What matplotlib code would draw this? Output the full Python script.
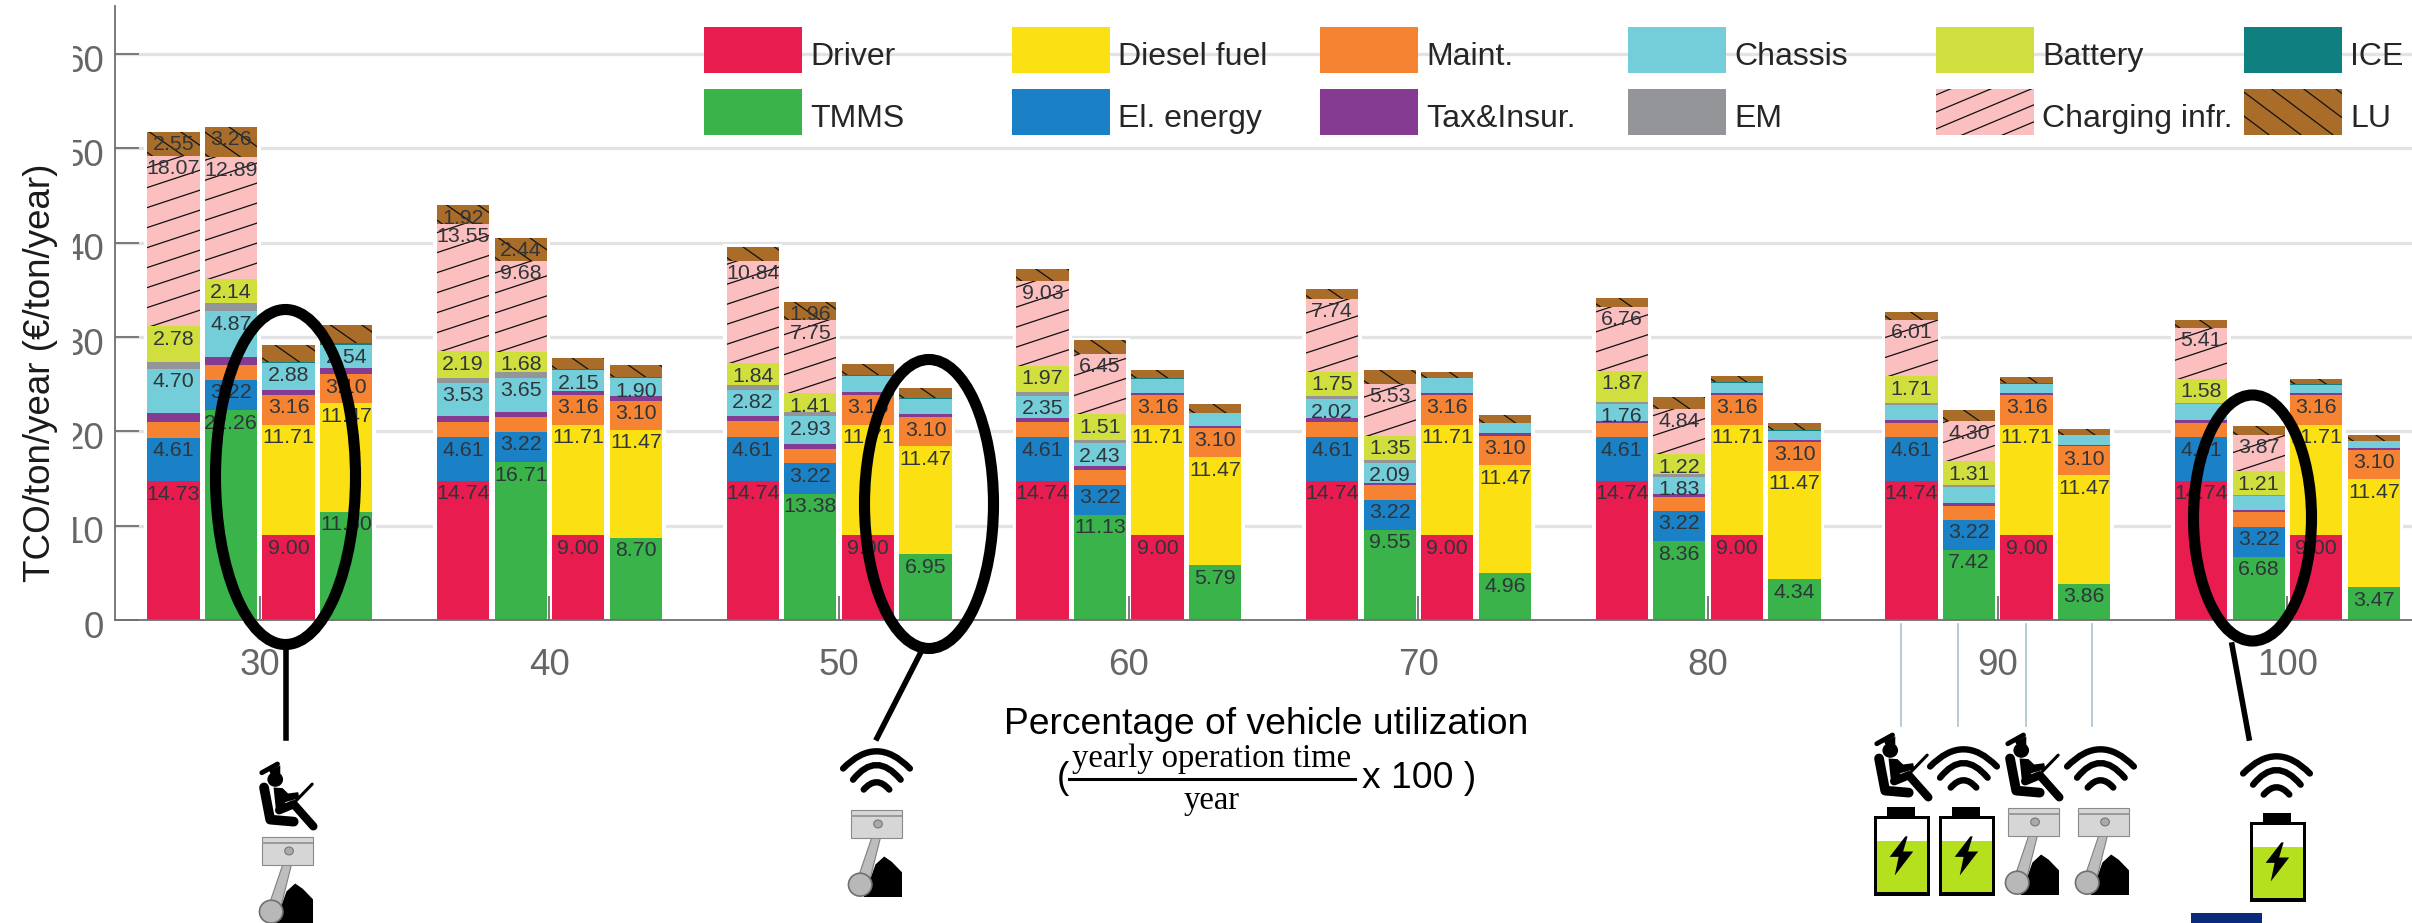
import numpy as np
import matplotlib
matplotlib.use('Agg')
import matplotlib.pyplot as plt
from matplotlib.lines import Line2D
from matplotlib.patches import Rectangle, Ellipse, Polygon, PathPatch
from matplotlib.path import Path
from matplotlib.transforms import Affine2D, IdentityTransform, ScaledTranslation

plt.rcParams['font.family'] = ['Liberation Sans', 'DejaVu Sans']

W, H = 2412, 923

groups = [30, 40, 50, 60, 70, 80, 90, 100]

# four bars per group: driver+electric, TMMS+electric, driver+diesel, TMMS+diesel
driver = [14.73, 0, 9.00, 0, 14.74, 0, 9.00, 0, 14.74, 0, 9.00, 0, 14.74, 0, 9.00, 0,
          14.74, 0, 9.00, 0, 14.74, 0, 9.00, 0, 14.74, 0, 9.00, 0, 14.74, 0, 9.00, 0]
tmms = [0, 22.26, 0, 11.50, 0, 16.71, 0, 8.70, 0, 13.38, 0, 6.95, 0, 11.13, 0, 5.79,
        0, 9.55, 0, 4.96, 0, 8.36, 0, 4.34, 0, 7.42, 0, 3.86, 0, 6.68, 0, 3.47]
diesel = [0, 0, 11.71, 11.47, 0, 0, 11.71, 11.47, 0, 0, 11.71, 11.47, 0, 0, 11.71, 11.47,
          0, 0, 11.71, 11.47, 0, 0, 11.71, 11.47, 0, 0, 11.71, 11.47, 0, 0, 11.71, 11.47]
el_energy = [4.61, 3.22, 0, 0, 4.61, 3.22, 0, 0, 4.61, 3.22, 0, 0, 4.61, 3.22, 0, 0,
             4.61, 3.22, 0, 0, 4.61, 3.22, 0, 0, 4.61, 3.22, 0, 0, 4.61, 3.22, 0, 0]
maint = [1.7, 1.6, 3.16, 3.10, 1.6, 1.55, 3.16, 3.10, 1.7, 1.55, 3.16, 3.10, 1.6, 1.55, 3.16, 3.10,
         1.6, 1.5, 3.16, 3.10, 1.5, 1.5, 3.16, 3.10, 1.55, 1.48, 3.16, 3.10, 1.55, 1.5, 3.16, 3.10]
tax = [.9, .8, .5, .6, .7, .55, .45, .45, .55, .5, .3, .3, .5, .4, .25, .25,
       .45, .3, .25, .25, .3, .25, .2, .2, .3, .25, .2, .15, .3, .25, .2, .15]
chassis = [4.70, 4.87, 2.88, 2.54, 3.53, 3.65, 2.15, 1.90, 2.82, 2.93, 1.73, 1.58, 2.35, 2.43, 1.45, 1.30,
           2.02, 2.09, 1.50, 1.07, 1.76, 1.83, 1.05, .95, 1.55, 1.75, 1.0, 1.0, 1.65, 1.5, .85, .75]
em = [.7, .9, 0, 0, .5, .65, 0, 0, .45, .5, 0, 0, .4, .35, 0, 0,
      .3, .3, 0, 0, .25, .3, 0, 0, .25, .15, 0, 0, .2, .15, 0, 0]
battery = [3.8, 2.5, 0, 0, 2.8, 2.1, 0, 0, 2.37, 1.95, 0, 0, 2.75, 2.72, 0, 0,
           2.6, 2.55, 0, 0, 3.27, 2.1, 0, 0, 2.85, 2.55, 0, 0, 2.5, 2.45, 0, 0]
ice = [0, 0, .15, .15, 0, 0, .1, .1, 0, 0, .1, .1, 0, 0, .08, .08,
       0, 0, .08, .08, 0, 0, .08, .08, 0, 0, .08, .08, 0, 0, .08, .08]
charging = [18.07, 12.89, 0, 0, 13.55, 9.68, 0, 0, 10.84, 7.75, 0, 0, 9.03, 6.45, 0, 0,
            7.74, 5.53, 0, 0, 6.76, 4.84, 0, 0, 6.01, 4.30, 0, 0, 5.41, 3.87, 0, 0]
lu = [2.55, 3.26, 1.8, 1.95, 1.92, 2.44, 1.25, 1.35, 1.5, 1.96, 1.1, 1.1, 1.24, 1.4, .85, .95,
      1.03, 1.45, .55, .8, 1.0, 1.25, .7, .75, .8, 1.1, .6, .6, .8, .92, .5, .55]

# printed labels where they differ from what is drawn or are left out
battery_lbl = ['2.78', '2.14', '', '', '2.19', '1.68', '', '', '1.84', '1.41', '', '', '1.97', '1.51', '', '',
               '1.75', '1.35', '', '', '1.87', '1.22', '', '', '1.71', '1.31', '', '', '1.58', '1.21', '', '']
chassis_lbl = ['4.70', '4.87', '2.88', '2.54', '3.53', '3.65', '2.15', '1.90', '2.82', '2.93', '', '', '2.35', '2.43', '', '',
               '2.02', '2.09', '', '', '1.76', '1.83', '', '', '', '', '', '', '', '', '', '']
lu_lbl = ['2.55', '3.26', '', '', '1.92', '2.44', '', '', '', '1.96', '', '']
maint_lbl = ['', '', '3.16', '3.10'] * 8

names = ['Driver', 'TMMS', 'Diesel fuel', 'El. energy', 'Maint.', 'Tax&Insur.',
         'Chassis', 'EM', 'Battery', 'ICE', 'Charging infr.', 'LU']
series = [driver, tmms, diesel, el_energy, maint, tax, chassis, em, battery, ice, charging, lu]
colors = ['#e81c4e', '#39b34a', '#fbe113', '#1a81c6', '#f68331', '#853b92',
          '#73ced9', '#939598', '#d1df3e', '#0f807f', '#fcbfbf', '#a96d29']
legend_order = ['Driver', 'TMMS', 'Diesel fuel', 'El. energy', 'Maint.', 'Tax&Insur.',
                'Chassis', 'EM', 'Battery', 'Charging infr.', 'ICE', 'LU']


def fmt(vals):
    return ['%.2f' % v if v else '' for v in vals]


labels = [fmt(driver), fmt(tmms), fmt(diesel), fmt(el_energy), maint_lbl, None,
          chassis_lbl, None, battery_lbl, None, fmt(charging), lu_lbl]

fig = plt.figure(figsize=(W / 100, H / 100), dpi=100)
ax = fig.add_axes([115 / W, (H - 620) / H, (W - 115) / W, 614 / H])
ax.set_xlim(25, 104.3)
ax.set_ylim(0, 65.1)

px_x = 28.97
pitch = 57.6 / px_x
width = 52.3 / px_x

x = np.array([g + (i - 1.5) * pitch for g in groups for i in range(4)])
totals = np.sum(series, axis=0)


def hatch(patch, slope, step, container, z):
    bb = patch.get_window_extent()
    w = bb.x1 - bb.x0
    rise = abs(slope) * w
    for c in np.arange(bb.y0 - rise - 4, bb.y1 + rise, step):
        line = Line2D([bb.x0, bb.x1], [c, c + slope * w], color='#111111', lw=0.9,
                      transform=IdentityTransform(), zorder=z)
        container.add_artist(line)
        line.set_clip_path(patch)


ax.hlines(range(10, 70, 10), 25, 104.3, color='#e3e3e5', lw=2.4, zorder=0.5)
# white halo round every stack, the grid stops short of the bars
ax.bar(x, totals + 0.3, width=width + 7 / px_x, color='white', zorder=0.9)

bottom = np.zeros(len(x))
for name, vals, col, lbl in zip(names, series, colors, labels):
    bars = ax.bar(x, vals, width=width, bottom=bottom, color=col, zorder=1)
    for i, b in enumerate(bars):
        if vals[i] == 0:
            continue
        if name == 'Charging infr.':
            hatch(b, 0.33, 20, ax, 1.5)
        if name == 'LU':
            hatch(b, -0.7, 22, ax, 1.5)
        if lbl is not None and i < len(lbl) and lbl[i]:
            ax.annotate(lbl[i], (x[i], bottom[i] + vals[i]), xytext=(0, -2.5),
                        textcoords='offset points', ha='center', va='top',
                        fontsize=15.4, color='#2f353a', zorder=3)
    bottom += np.array(vals)

for s in ['top', 'right']:
    ax.spines[s].set_visible(False)
for s in ['left', 'bottom']:
    ax.spines[s].set_color('#707070')
    ax.spines[s].set_linewidth(1.3)
ax.set_xticks(groups)
ax.set_yticks(range(0, 70, 10))
ax.tick_params(axis='both', direction='in', length=17, width=1.3, color='#707070',
               labelcolor='#666666', labelsize=26.5)
ax.tick_params(axis='x', pad=20)
ax.tick_params(axis='y', pad=8)
ax.patch.set_alpha(0)
for t in ax.get_yticklabels():
    t.set_transform(t.get_transform() + ScaledTranslation(0, -0.04, fig.dpi_scale_trans))

fig.text(41 / W, 1 - 373 / H, 'TCO/ton/year (€/ton/year)', rotation=90, fontsize=26.5,
         color='#1a1a1a', ha='center', va='center')
# the left digit of the y tick labels is cut off in the original
fig.add_artist(Rectangle((60, H - 570), 13, 560, color='white', lw=0,
                         transform=IdentityTransform(), zorder=4))

# legend, fixed column pitch
for j, name in enumerate(legend_order):
    col = colors[names.index(name)]
    lx = 704 + 308 * (j // 2)
    ly = 27 if j % 2 == 0 else 89
    r = Rectangle((lx, H - ly - 46), 97.5, 46, facecolor=col, edgecolor='none',
                  transform=IdentityTransform(), zorder=3)
    fig.add_artist(r)
    if name == 'Charging infr.':
        hatch(r, 0.42, 17, fig, 3.2)
    if name == 'LU':
        hatch(r, -0.75, 24, fig, 3.2)
    fig.text((lx + 106) / W, 1 - (ly + 30) / H, name, fontsize=23, color='#262626',
             ha='left', va='center', zorder=3)

# x axis title with fraction
fig.text(1266 / W, 1 - 725 / H, 'Percentage of vehicle utilization', fontsize=26.8,
         color='black', ha='center', va='center')
fig.text(1212 / W, 1 - 759 / H, 'yearly operation time', fontsize=23.5, family='Liberation Serif',
         color='black', ha='center', va='center')
fig.text(1212 / W, 1 - 801 / H, 'year', fontsize=23.5, family='Liberation Serif',
         color='black', ha='center', va='center')
fig.add_artist(Line2D([1069, 1355], [H - 779, H - 779], color='black', lw=2.2,
                      transform=IdentityTransform()))
fig.text(1057 / W, 1 - 778 / H, '(', fontsize=26.8, color='black', ha='left', va='center')
fig.text(1362 / W, 1 - 778 / H, 'x 100 )', fontsize=26.8, color='black', ha='left', va='center')

# callout ellipses and pointers
for cx, cy, ew, eh in [(285.5, 477, 151, 346), (929, 504, 140, 300), (2252.5, 518, 129, 257)]:
    fig.add_artist(Ellipse((cx, H - cy), ew - 11, eh - 11, fill=False, edgecolor='black', lw=8,
                           transform=IdentityTransform(), zorder=5))
for x0, y0, x1, y1 in [(286, 648, 286, 738), (921, 652, 877, 738), (2232, 645, 2249, 738)]:
    fig.add_artist(Line2D([x0, x1], [H - y0, H - y1], color='black', lw=4,
                          transform=IdentityTransform(), zorder=5))
for lx in [1901, 1958, 2026, 2092]:
    fig.add_artist(Line2D([lx, lx], [H - 624, H - 726], color='#a9c2d1', lw=1.2,
                          transform=IdentityTransform(), zorder=2))

fig.add_artist(Rectangle((2191, 0), 71, 10, color='#0a2a7a', lw=0,
                         transform=IdentityTransform(), zorder=5))


def box(x0, y0, w, h):
    return Affine2D().scale(w, -h).translate(x0, H - y0)


def add(p, tr):
    p.set_transform(tr)
    p.set_zorder(6)
    fig.add_artist(p)


def stroke(pts, tr, lw, col='black'):
    xs, ys = tr.transform(pts).T
    fig.add_artist(Line2D(xs, ys, color=col, lw=lw, solid_capstyle='round', solid_joinstyle='round',
                          transform=IdentityTransform(), zorder=6))


def driver_icon(x0, y0, w=56, h=67):
    tr = box(x0, y0, w, h)
    stroke([(.05, .16), (.33, .03)], tr, 3.5)
    add(Polygon([(.18, .13), (.38, .05), (.38, .19), (.22, .2)], color='black', lw=0), tr)
    add(Ellipse((.29, .26), .28, .22, color='black', lw=0), tr)
    stroke([(.09, .38), (.2, .86), (.62, .89)], tr, 7)
    add(Polygon([(.26, .38), (.42, .39), (.52, .47), (.7, .45), (.72, .54), (.47, .6), (.46, .68),
                 (.62, .66), (.34, .78), (.3, .7)], color='black', lw=0), tr)
    stroke([(.36, .72), (.62, .63), (.97, .96)], tr, 6)
    stroke([(.66, .58), (.95, .33)], tr, 2.2)


def wifi_icon(x0, y0, w=71, h=43):
    tr = box(x0, y0, w, h)
    for a, m, b in [((.03, .43), (.5, .03), (.97, .43)), ((.17, .69), (.5, .35), (.84, .69)),
                    ((.32, .92), (.5, .75), (.68, .92))]:
        c = (2 * m[0] - (a[0] + b[0]) / 2, 2 * m[1] - (a[1] + b[1]) / 2)
        pts = tr.transform([a, c, b])
        p = PathPatch(Path(pts, [Path.MOVETO, Path.CURVE3, Path.CURVE3]), fill=False,
                      edgecolor='black', lw=4.6, capstyle='round',
                      transform=IdentityTransform(), zorder=6)
        fig.add_artist(p)


def battery_icon(x0, y0, w=56, h=89):
    tr = box(x0, y0, w, h)
    add(Rectangle((.24, 0), .49, .12, color='black', lw=0), tr)
    add(Rectangle((0, .1), 1, .9, color='black', lw=0), tr)
    add(Rectangle((.06, .14), .88, .25, color='white', lw=0), tr)
    add(Rectangle((.06, .38), .88, .58, color='#b4e01e', lw=0), tr)
    add(Polygon([(.56, .33), (.28, .56), (.44, .56), (.37, .77), (.7, .5), (.52, .5), (.6, .33)],
                color='black', lw=0), tr)


def piston_icon(x0, y0, w=51, h=88):
    tr = box(x0, y0, w, h)
    add(Polygon([(.4, .76), (.48, .63), (.65, .54), (.8, .6), (1, .72), (1, 1), (.25, 1)],
                color='black', lw=0), tr)
    add(Polygon([(.41, .32), (.58, .32), (.38, .78), (.14, .78)], facecolor='#bdbdbd',
                edgecolor='#808080', lw=0.8), tr)
    add(Rectangle((0, .01), 1, .32, facecolor='#d6d6d6', edgecolor='#8a8a8a', lw=0.8), tr)
    add(Rectangle((0, .07), 1, .02, color='#9a9a9a', lw=0), tr)
    add(Ellipse((.53, .17), .17, .09, facecolor='#aaaaaa', edgecolor='#777777', lw=0.8), tr)
    add(Ellipse((.18, .86), .46, .26, facecolor='#b8b8b8', edgecolor='#707070', lw=1.2), tr)


driver_icon(259, 762)
piston_icon(262, 836)
wifi_icon(841, 750)
piston_icon(851, 809)
driver_icon(1874, 733)
battery_icon(1874, 807)
wifi_icon(1928, 748)
battery_icon(1939, 807)
driver_icon(2005, 733)
piston_icon(2008, 807)
wifi_icon(2065, 748)
piston_icon(2078, 807)
wifi_icon(2241, 755)
battery_icon(2250, 813)

fig.savefig('out.png', dpi=100)
